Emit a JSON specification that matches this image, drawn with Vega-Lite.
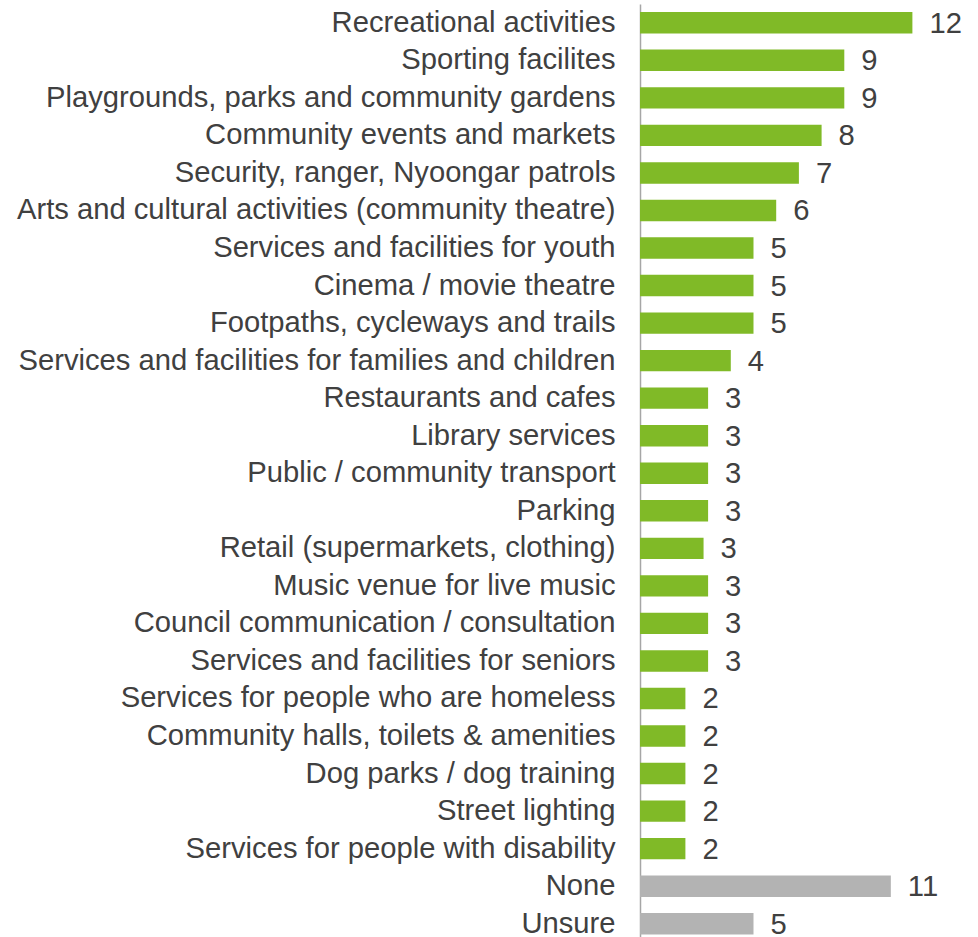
{
  "$schema": "https://vega.github.io/schema/vega-lite/v6.json",
  "autosize": {"type": "none"},
  "padding": {"left": 640, "top": 4, "right": 0, "bottom": 0},
  "width": 338,
  "height": 938.5,
  "background": "white",
  "config": {"view": {"stroke": null}, "font": "Liberation Sans"},
  "data": {
    "values": [
      {"item": "Recreational activities", "value": 12, "label": "12", "group": "main"},
      {"item": "Sporting facilites", "value": 9, "label": "9", "group": "main"},
      {"item": "Playgrounds, parks and community gardens", "value": 9, "label": "9", "group": "main"},
      {"item": "Community events and markets", "value": 8, "label": "8", "group": "main"},
      {"item": "Security, ranger, Nyoongar patrols", "value": 7, "label": "7", "group": "main"},
      {"item": "Arts and cultural activities (community theatre)", "value": 6, "label": "6", "group": "main"},
      {"item": "Services and facilities for youth", "value": 5, "label": "5", "group": "main"},
      {"item": "Cinema / movie theatre", "value": 5, "label": "5", "group": "main"},
      {"item": "Footpaths, cycleways and trails", "value": 5, "label": "5", "group": "main"},
      {"item": "Services and facilities for families and children", "value": 4, "label": "4", "group": "main"},
      {"item": "Restaurants and cafes", "value": 3, "label": "3", "group": "main"},
      {"item": "Library services", "value": 3, "label": "3", "group": "main"},
      {"item": "Public / community transport", "value": 3, "label": "3", "group": "main"},
      {"item": "Parking", "value": 3, "label": "3", "group": "main"},
      {"item": "Retail (supermarkets, clothing)", "value": 2.8, "label": "3", "group": "main"},
      {"item": "Music venue for live music", "value": 3, "label": "3", "group": "main"},
      {"item": "Council communication / consultation", "value": 3, "label": "3", "group": "main"},
      {"item": "Services and facilities for seniors", "value": 3, "label": "3", "group": "main"},
      {"item": "Services for people who are homeless", "value": 2, "label": "2", "group": "main"},
      {"item": "Community halls, toilets & amenities", "value": 2, "label": "2", "group": "main"},
      {"item": "Dog parks / dog training", "value": 2, "label": "2", "group": "main"},
      {"item": "Street lighting", "value": 2, "label": "2", "group": "main"},
      {"item": "Services for people with disability", "value": 2, "label": "2", "group": "main"},
      {"item": "None", "value": 11.05, "label": "11", "group": "other"},
      {"item": "Unsure", "value": 5, "label": "5", "group": "other"}
    ]
  },
  "encoding": {
    "y": {
      "field": "item",
      "type": "nominal",
      "sort": null,
      "scale": {"paddingInner": 0.43, "paddingOuter": 0.215},
      "axis": {
        "title": null,
        "ticks": false,
        "labelPadding": 25,
        "labelFontSize": 29.2,
        "labelColor": "#404040",
        "labelLimit": 700,
        "domainColor": "#a6a6a6",
        "domainWidth": 1.5
      }
    },
    "x": {
      "field": "value",
      "type": "quantitative",
      "scale": {"domain": [0, 14.89], "nice": false},
      "axis": null
    }
  },
  "layer": [
    {
      "mark": {"type": "bar"},
      "encoding": {
        "color": {
          "field": "group",
          "type": "nominal",
          "scale": {"domain": ["main", "other"], "range": ["#80ba27", "#b3b3b3"]},
          "legend": null
        }
      }
    },
    {
      "mark": {"type": "text", "align": "left", "baseline": "middle", "dx": 17, "dy": 1, "fontSize": 29.2, "color": "#404040"},
      "encoding": {"text": {"field": "label"}}
    }
  ]
}
